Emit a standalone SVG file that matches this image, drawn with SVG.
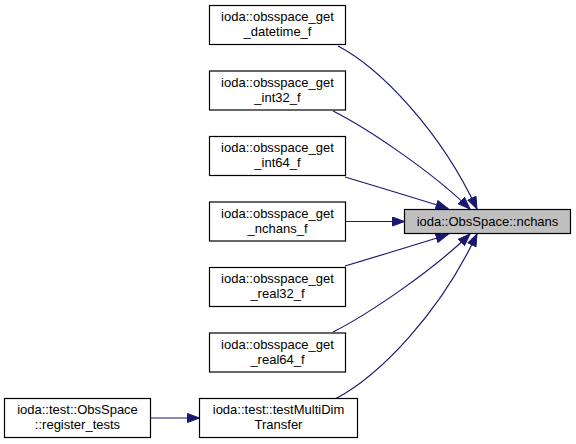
<svg xmlns="http://www.w3.org/2000/svg" width="576" height="444" viewBox="0 0 576 444">
<defs>
<style>
.node rect{fill:#ffffff;stroke:#000000;stroke-width:1.2}
.node.cur rect{fill:#bfbfbf}
.node text{font-family:"Liberation Sans",Arial,sans-serif;font-size:13px;fill:#000000;text-anchor:middle}
.edges path{fill:none;stroke:#191970;stroke-width:1.2}
</style>
<marker id="ah" viewBox="0 0 13 10" refX="12.5" refY="5" markerWidth="13" markerHeight="10" markerUnits="userSpaceOnUse" orient="auto">
<path d="M0.5,0.5 L12.5,5 L0.5,9.5 Z" fill="#191970" stroke="#191970" stroke-width="1"/>
</marker>
</defs>
<rect width="576" height="444" fill="#ffffff"/>
<g class="edges">
<path d="M338,46 C380,68 440,130 477,209" marker-end="url(#ah)"/>
<path d="M333,111 C365,127 430,170 470,209" marker-end="url(#ah)"/>
<path d="M345,177 C375,186 415,198 448,208.5" marker-end="url(#ah)"/>
<path d="M345.5,221.5 L404.5,221.5" marker-end="url(#ah)"/>
<path d="M345,266 C375,257 415,245 448,234.5" marker-end="url(#ah)"/>
<path d="M333,332 C365,316 430,273 470,234" marker-end="url(#ah)"/>
<path d="M336,398.5 C380,375 440,313 477,234" marker-end="url(#ah)"/>
<path d="M150.5,418 L199.5,418" marker-end="url(#ah)"/>
</g>
<g id="n_target" class="node cur">
<rect x="404.5" y="209.5" width="166" height="24"/>
<text x="487.5" y="226">ioda::ObsSpace::nchans</text>
</g>
<g id="n_datetime" class="node">
<rect x="209.5" y="5.5" width="136" height="39"/>
<text x="277.5" y="21">ioda::obsspace_get</text>
<text x="277.5" y="36">_datetime_f</text>
</g>
<g id="n_int32" class="node">
<rect x="209.5" y="71" width="136" height="39"/>
<text x="277.5" y="86.5">ioda::obsspace_get</text>
<text x="277.5" y="101.5">_int32_f</text>
</g>
<g id="n_int64" class="node">
<rect x="209.5" y="136.5" width="136" height="39"/>
<text x="277.5" y="152">ioda::obsspace_get</text>
<text x="277.5" y="167">_int64_f</text>
</g>
<g id="n_nchans" class="node">
<rect x="209.5" y="202" width="136" height="39"/>
<text x="277.5" y="217.5">ioda::obsspace_get</text>
<text x="277.5" y="232.5">_nchans_f</text>
</g>
<g id="n_real32" class="node">
<rect x="209.5" y="267.5" width="136" height="39"/>
<text x="277.5" y="283">ioda::obsspace_get</text>
<text x="277.5" y="298">_real32_f</text>
</g>
<g id="n_real64" class="node">
<rect x="209.5" y="333" width="136" height="39"/>
<text x="277.5" y="348.5">ioda::obsspace_get</text>
<text x="277.5" y="363.5">_real64_f</text>
</g>
<g id="n_testmulti" class="node">
<rect x="199.5" y="398.5" width="158" height="39"/>
<text x="278.5" y="414">ioda::test::testMultiDim</text>
<text x="278.5" y="429">Transfer</text>
</g>
<g id="n_register" class="node">
<rect x="4.5" y="398.5" width="146" height="39"/>
<text x="77.5" y="414">ioda::test::ObsSpace</text>
<text x="77.5" y="429">::register_tests</text>
</g>
</svg>
